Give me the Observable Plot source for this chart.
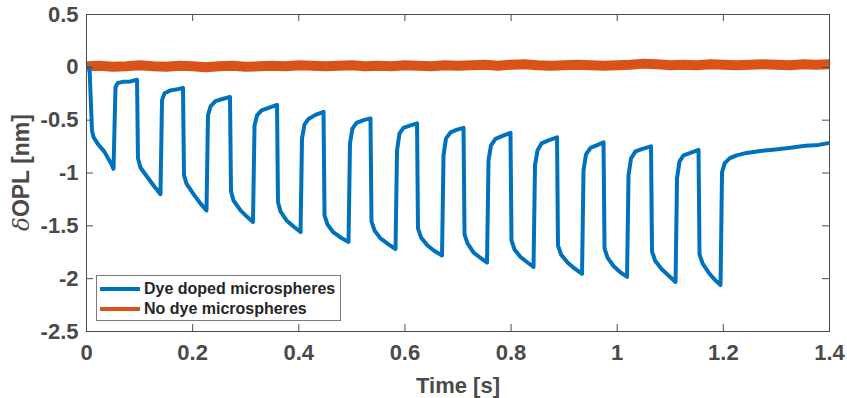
<!DOCTYPE html>
<html><head><meta charset="utf-8">
<script src="https://cdn.jsdelivr.net/npm/d3@7"></script>
<script src="https://cdn.jsdelivr.net/npm/@observablehq/plot@0.6"></script>
<style>
html,body{margin:0;padding:0;background:#fff;}
#wrap{position:relative;width:847px;height:398px;font-family:"Liberation Sans",Arial,Helvetica,sans-serif;}
#legend{position:absolute;left:96px;top:275px;width:245px;height:46px;box-sizing:border-box;border:1px solid #7a7a7a;background:#fff;}
.row{position:absolute;left:0;height:20px;display:flex;align-items:center;}
.sw{width:40px;height:4px;margin-left:3px;margin-right:4px;}
.lab{font-weight:bold;font-size:16px;color:#262626;white-space:nowrap;}
</style></head>
<body><div id="wrap"><div id="legend"></div></div>
<script>
const seriesNames = ["Dye doped microspheres", "No dye microspheres"];
const seriesColors = ["#0072BD", "#D95319"];

const xTicks = [0, 0.2, 0.4, 0.6, 0.8, 1, 1.2, 1.4];
const xTickLabels = ["0", "0.2", "0.4", "0.6", "0.8", "1", "1.2", "1.4"];
const yTicks = [0.5, 0, -0.5, -1, -1.5, -2, -2.5];
const yTickLabels = ["0.5", "0", "-0.5", "-1", "-1.5", "-2", "-2.5"];
const xLabel = "Time [s]";
const yLabel = "δOPL [nm]";

const dyeTime = [0,0.0057,0.0104,0.0132,0.0207,0.0339,0.0452,0.0509,0.0546,0.0584,0.0678,0.0829,0.0952,
0.0970,0.1018,0.1149,0.1281,0.1394,0.1423,0.1470,0.1583,0.1715,0.1818,
0.1837,0.1884,0.2016,0.2148,0.2261,0.2289,0.2337,0.2431,0.2563,0.2704,
0.2723,0.2770,0.2902,0.3015,0.3137,0.3166,0.3213,0.3298,0.3430,0.3590,
0.3608,0.3656,0.3769,0.3901,0.4033,0.4061,0.4108,0.4183,0.4315,0.4466,
0.4485,0.4541,0.4654,0.4805,0.4937,0.4965,0.5012,0.5088,0.5220,0.5351,
0.5370,0.5427,0.5540,0.5691,0.5823,0.5851,0.5898,0.5973,0.6105,0.6228,
0.6246,0.6303,0.6426,0.6557,0.6699,0.6727,0.6774,0.6859,0.6972,0.7104,
0.7123,0.7179,0.7292,0.7424,0.7547,0.7575,0.7622,0.7707,0.7839,0.7989,
0.8008,0.8065,0.8178,0.8310,0.8423,0.8451,0.8498,0.8573,0.8705,0.8866,
0.8884,0.8941,0.9063,0.9195,0.9337,0.9365,0.9412,0.9497,0.9610,0.9742,
0.9761,0.9817,0.9930,1.0062,1.0185,1.0213,1.0260,1.0345,1.0477,1.0637,
1.0656,1.0712,1.0835,1.0967,1.1099,1.1127,1.1174,1.1249,1.1381,1.1532,
1.1551,1.1608,1.1721,1.1834,1.1947,1.1975,1.2022,1.2116,1.2248,1.2436,
1.2700,1.2983,1.3265,1.3548,1.3793,1.40];
const dyeValue = [0,-0.01,-0.60,-0.66,-0.72,-0.80,-0.90,-0.96,-0.19,-0.15,-0.137,-0.133,-0.118,
-0.86,-0.95,-1.04,-1.13,-1.20,-0.31,-0.246,-0.218,-0.208,-0.194,
-1.02,-1.10,-1.20,-1.29,-1.354,-0.455,-0.37,-0.32,-0.30,-0.28,
-1.174,-1.26,-1.354,-1.41,-1.463,-0.55,-0.455,-0.407,-0.384,-0.355,
-1.274,-1.364,-1.449,-1.506,-1.558,-0.672,-0.54,-0.488,-0.45,-0.421,
-1.40,-1.487,-1.5625,-1.615,-1.652,-0.72,-0.578,-0.526,-0.50,-0.483,
-1.458,-1.544,-1.619,-1.676,-1.719,-0.786,-0.625,-0.573,-0.549,-0.530,
-1.525,-1.61,-1.686,-1.738,-1.780,-0.833,-0.672,-0.616,-0.592,-0.573,
-1.58,-1.667,-1.752,-1.804,-1.847,-0.88,-0.739,-0.677,-0.649,-0.62,
-1.638,-1.723,-1.795,-1.847,-1.889,-0.928,-0.786,-0.72,-0.691,-0.663,
-1.686,-1.771,-1.847,-1.903,-1.955,-0.975,-0.824,-0.762,-0.739,-0.710,
-1.714,-1.80,-1.88,-1.941,-1.984,-1.023,-0.862,-0.795,-0.772,-0.748,
-1.742,-1.828,-1.908,-1.97,-2.031,-1.051,-0.89,-0.833,-0.81,-0.781,
-1.771,-1.856,-1.941,-2.008,-2.06,-0.994,-0.909,-0.862,-0.833,-0.81,
-0.791,-0.777,-0.762,-0.743,-0.734,-0.715];

const noDyeTime = [0,0.025,0.05,0.075,0.1,0.125,0.15,0.175,0.2,0.225,0.25,0.275,0.3,0.325,0.35,0.375,0.4,0.425,0.45,0.475,0.5,0.525,0.55,0.575,0.6,0.625,0.65,0.675,0.7,0.725,0.75,0.775,0.8,0.825,0.85,0.875,0.9,0.925,0.95,0.975,1.0,1.025,1.05,1.075,1.1,1.125,1.15,1.175,1.2,1.225,1.25,1.275,1.3,1.325,1.35,1.375,1.4];
const noDyeValue = [0.01,0.015,0.005,0.01,0.02,0.01,0.005,0.015,0.01,0.0,
0.01,0.015,0.005,0.01,0.015,0.01,0.02,0.015,0.01,0.015,
0.02,0.01,0.015,0.01,0.02,0.015,0.01,0.02,0.015,0.02,
0.025,0.015,0.025,0.03,0.02,0.015,0.02,0.025,0.02,0.015,
0.02,0.025,0.035,0.03,0.02,0.025,0.02,0.03,0.025,0.02,
0.025,0.03,0.025,0.02,0.03,0.025,0.03];

const dye = dyeTime.map((t, i) => ({t, v: dyeValue[i]}));
const noDye = noDyeTime.map((t, i) => ({t, v: noDyeValue[i]}));

const FONT = '"Liberation Sans", Arial, Helvetica, sans-serif';
const axisColor = "#4d4d4d";
const textColor = "#4a4a4a";

const W = 847, H = 398, mL = 86, mR = 18, mT = 14, mB = 67;
const innerW = W - mL - mR, innerH = H - mT - mB, tickLen = 7;

const chart = Plot.plot({
  width: W, height: H,
  marginLeft: mL, marginRight: mR, marginTop: mT, marginBottom: mB,
  style: {fontFamily: FONT, background: "#fff", overflow: "visible"},
  x: {domain: [0, 1.4], axis: null},
  y: {domain: [-2.5, 0.5], axis: null},
  marks: [
    Plot.line(noDye, {x: "t", y: "v", stroke: seriesColors[1], strokeWidth: 10, strokeLinejoin: "round", clip: true}),
    Plot.line(dye, {x: "t", y: "v", stroke: seriesColors[0], strokeWidth: 4, strokeLinejoin: "round", strokeLinecap: "round", clip: true}),
    Plot.frame({stroke: axisColor, strokeWidth: 1}),
    Plot.ruleX(xTicks, {stroke: axisColor, insetTop: innerH - tickLen}),
    Plot.ruleX(xTicks, {stroke: axisColor, insetBottom: innerH - tickLen}),
    Plot.ruleY(yTicks, {stroke: axisColor, insetRight: innerW - tickLen}),
    Plot.ruleY(yTicks, {stroke: axisColor, insetLeft: innerW - tickLen}),
    Plot.axisX({ticks: xTicks, tickSize: 0, tickPadding: 13, label: null,
      tickFormat: d => xTickLabels[xTicks.indexOf(d)],
      fontSize: 22, fontWeight: "bold", fill: textColor}),
    Plot.axisY({ticks: yTicks, tickSize: 0, tickPadding: 8, label: null,
      tickFormat: d => yTickLabels[yTicks.indexOf(d)],
      fontSize: 22, fontWeight: "bold", fill: textColor}),
    Plot.text([xLabel], {frameAnchor: "bottom", dy: 61, lineAnchor: "bottom",
      fontSize: 22, fontWeight: "bold", fill: textColor}),
    Plot.text([yLabel], {frameAnchor: "left", dx: -62, rotate: -90, lineAnchor: "middle",
      fontSize: 23, fontWeight: "bold", fill: textColor})
  ]
});

// italic, non-bold delta in y label
let yLabelEl = null;
d3.select(chart).selectAll("text").each(function() {
  if (this.textContent === yLabel) {
    yLabelEl = this;
    const el = d3.select(this);
    el.text(null);
    el.append("tspan").attr("font-style", "italic").attr("font-weight", "normal").attr("font-family", '"DejaVu Serif", serif').text(yLabel.slice(0, 1));
    el.append("tspan").text(yLabel.slice(1));
  }
});

const wrap = document.getElementById("wrap");
wrap.insertBefore(chart, wrap.firstChild);

// centre the rotated y label on the plot frame (vertical) at the reference's horizontal spot
if (yLabelEl) {
  const r = yLabelEl.getBoundingClientRect();
  const s = chart.getBoundingClientRect();
  const cx = r.left + r.width / 2 - s.left;
  const cy = r.top + r.height / 2 - s.top;
  const targetX = 21, targetY = mT + innerH / 2;
  const g = yLabelEl.parentNode;
  g.setAttribute("transform", (g.getAttribute("transform") || "") + ` translate(${targetX - cx},${targetY - cy})`);
}

const legend = d3.select("#legend");
seriesNames.forEach((name, i) => {
  const row = legend.append("div").attr("class", "row").style("top", (i === 0 ? 3 : 23) + "px");
  row.append("div").attr("class", "sw").style("background", seriesColors[i]);
  row.append("div").attr("class", "lab").text(name);
});
</script>
</body></html>
